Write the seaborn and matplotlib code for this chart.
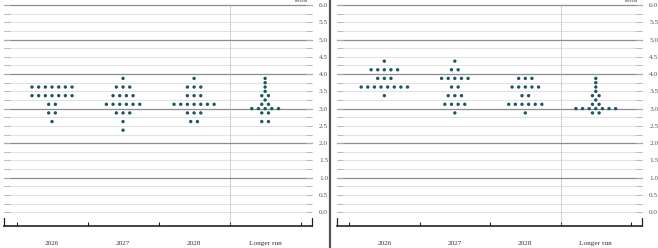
import numpy as np
import pandas as pd
import matplotlib
matplotlib.use("Agg")
import matplotlib.pyplot as plt
from matplotlib.lines import Line2D
import seaborn as sns

# ---------------- data ----------------
categories = ["2026", "2027", "2028", "Longer run"]
ytick_values = [0.0, 0.5, 1.0, 1.5, 2.0, 2.5, 3.0, 3.5, 4.0, 4.5, 5.0, 5.5, 6.0]
ytick_labels = ["0.0", "0.5", "1.0", "1.5", "2.0", "2.5", "3.0", "3.5", "4.0", "4.5", "5.0", "5.5", "6.0"]

# Left panel
left_2026_rates = [3.625, 3.375, 3.125, 2.875, 2.625]
left_2026_counts = [7, 7, 2, 2, 1]
left_2027_rates = [3.875, 3.625, 3.375, 3.125, 2.875, 2.625, 2.375]
left_2027_counts = [1, 3, 4, 6, 3, 1, 1]
left_2028_rates = [3.875, 3.625, 3.375, 3.125, 2.875, 2.625]
left_2028_counts = [1, 3, 3, 7, 3, 2]
left_lr_rates = [3.875, 3.75, 3.625, 3.5, 3.375, 3.25, 3.125, 3.0, 2.875, 2.625]
left_lr_counts = [1, 1, 1, 1, 2, 1, 2, 5, 2, 2]

# Right panel
right_2026_rates = [4.375, 4.125, 3.875, 3.625, 3.375]
right_2026_counts = [1, 5, 3, 8, 1]
right_2027_rates = [4.375, 4.125, 3.875, 3.625, 3.375, 3.125, 2.875]
right_2027_counts = [1, 2, 5, 2, 3, 4, 1]
right_2028_rates = [3.875, 3.625, 3.375, 3.125, 2.875]
right_2028_counts = [3, 5, 2, 6, 1]
right_lr_rates = [3.875, 3.75, 3.625, 3.5, 3.375, 3.25, 3.125, 3.0, 2.875]
right_lr_counts = [1, 1, 1, 1, 2, 1, 2, 7, 2]

left_panel = [(left_2026_rates, left_2026_counts), (left_2027_rates, left_2027_counts),
              (left_2028_rates, left_2028_counts), (left_lr_rates, left_lr_counts)]
right_panel = [(right_2026_rates, right_2026_counts), (right_2027_rates, right_2027_counts),
               (right_2028_rates, right_2028_counts), (right_lr_rates, right_lr_counts)]

# ---------------- style ----------------
sns.set_theme(style="white")
plt.rcParams["font.family"] = ["Liberation Serif", "DejaVu Serif"]

DOT = "#1d5766"
MAJOR = "#8c8c8c"
MINOR = "#e2e2e2"
SPACING = 0.094


def build_frame(panel):
    rows = []
    for i, (rates, counts) in enumerate(panel):
        for r, c in zip(rates, counts):
            for j in range(c):
                rows.append({"x": i + (j - (c - 1) / 2) * SPACING, "rate": r,
                             "category": categories[i]})
    return pd.DataFrame(rows)


def draw_panel(ax, panel):
    xlim = (-0.676, 3.66)
    ax.set_xlim(*xlim)
    ax.set_ylim(-0.39, 6.0)
    # gridlines
    for k in range(0, 25):
        v = k * 0.25
        is_major = (k % 4 == 0) and k > 0
        ax.axhline(v, color=MAJOR if is_major else MINOR,
                   lw=0.9 if is_major else 0.8, zorder=0, clip_on=False)
    # divider before longer run
    ax.axvline(2.5, color="#9a9a9a", ls=(0, (1, 1)), lw=0.6, zorder=1)

    df = build_frame(panel)
    sns.scatterplot(data=df, x="x", y="rate", ax=ax, color=DOT, s=6,
                    edgecolor="none", linewidth=0, legend=False, zorder=3)
    ax.set_xlabel("")
    ax.set_ylabel("")

    for s in ["top", "left", "right"]:
        ax.spines[s].set_visible(False)
    ax.spines["bottom"].set_color("#222222")
    ax.spines["bottom"].set_linewidth(1.2)

    ax.set_xticks(range(len(categories)))
    ax.set_xticklabels(categories)
    ax.set_xticks([-0.5, 0.5, 1.5, 2.5, 3.5], minor=True)
    ax.tick_params(axis="x", which="major", length=0, pad=11, labelsize=5.2,
                   labelcolor="#333333")
    ax.tick_params(axis="x", which="minor", direction="in", length=3,
                   width=0.8, color="#222222", bottom=True)
    for xe in xlim:
        ax.axvline(xe, ymin=0, ymax=0.035, color="#222222", lw=0.9, clip_on=False)

    ax.set_yticks(ytick_values)
    ax.set_yticklabels(ytick_labels)
    ax.set_yticks([v + 0.25 for v in ytick_values[:-1]], minor=True)
    ax.tick_params(axis="y", which="both", left=True, right=True,
                   labelleft=False, labelright=True, direction="in",
                   length=4, width=0.6, color="#b5b5b5", pad=5,
                   labelsize=5.2, labelcolor="#555555")
    ax.text(0.985, 1.008, "Percent", transform=ax.transAxes, ha="right",
            va="bottom", fontsize=3.2, color="#333333", clip_on=False)


fig = plt.figure(figsize=(6.58, 2.48), dpi=100)
fig.patch.set_facecolor("white")

bottom = 22.3 / 248
height = (225.7 - 5) / 248
axL = fig.add_axes([4 / 658, bottom, 308 / 658, height])
axR = fig.add_axes([336.7 / 658, bottom, 305.6 / 658, height])
for a in (axL, axR):
    a.set_facecolor("none")

draw_panel(axL, left_panel)
draw_panel(axR, right_panel)

fig.add_artist(Line2D([330.5 / 658, 330.5 / 658], [0, 1], color="#555555", lw=1.6,
                      transform=fig.transFigure))

fig.savefig("out.png", dpi=100, facecolor="white")
